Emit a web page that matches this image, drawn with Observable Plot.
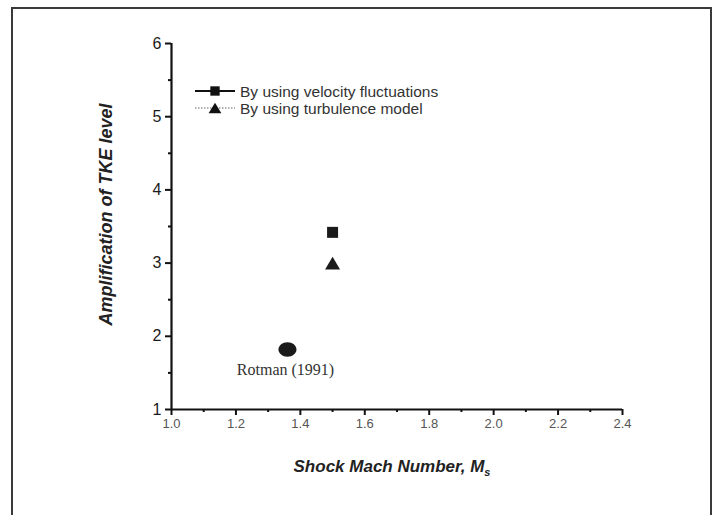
<!DOCTYPE html>
<html>
<head>
<meta charset="utf-8">
<script src="https://cdn.jsdelivr.net/npm/d3@7"></script>
<script src="https://cdn.jsdelivr.net/npm/@observablehq/plot@0.6"></script>
<style>
  html, body { margin: 0; padding: 0; background: #fff; }
  #wrap { position: relative; width: 718px; height: 515px; overflow: hidden; background: #fff; }
  #border { position: absolute; left: 11px; top: 7px; width: 697px; height: 530px;
            border: 2px solid #3a3a3a; border-bottom: none; pointer-events: none; }
  .xticks text { fill: #555; }
  .yticks text { fill: #1a1a1a; }
</style>
</head>
<body>
<div id="wrap"><div id="border"></div></div>
<script>
// ---- data ----
const seriesNames = ["By using velocity fluctuations", "By using turbulence model", "Rotman (1991)"];
const machNumbers = [1.5, 1.5, 1.36];
const amplification = [3.42, 3.0, 1.82];
const xTicks = [1.0, 1.2, 1.4, 1.6, 1.8, 2.0, 2.2, 2.4];
const xMinorTicks = [1.1, 1.3, 1.5, 1.7, 1.9, 2.1, 2.3];
const yTicks = [1, 2, 3, 4, 5, 6];
const yMinorTicks = [1.5, 2.5, 3.5, 4.5, 5.5];
const xLabel = "Shock Mach Number, M";
const xLabelSub = "s";
const yLabel = "Amplification of TKE level";

const rows = seriesNames.map((name, i) => ({ name, x: machNumbers[i], y: amplification[i] }));

// custom marker symbols (Origin-style, centred on bounding box)
const squareSym = { draw(ctx) { const h = 5.5; ctx.moveTo(-h, -h); ctx.lineTo(h, -h); ctx.lineTo(h, h); ctx.lineTo(-h, h); ctx.closePath(); } };
const triSym = { draw(ctx) { const w = 7.5, h = 6.3; ctx.moveTo(0, -h); ctx.lineTo(w, h); ctx.lineTo(-w, h); ctx.closePath(); } };
const ellipseSym = { draw(ctx) {
  const a = 9, b = 7.2, k = 0.5523;
  ctx.moveTo(a, 0);
  ctx.bezierCurveTo(a, k * b, k * a, b, 0, b);
  ctx.bezierCurveTo(-k * a, b, -a, k * b, -a, 0);
  ctx.bezierCurveTo(-a, -k * b, -k * a, -b, 0, -b);
  ctx.bezierCurveTo(k * a, -b, a, -k * b, a, 0);
  ctx.closePath();
} };

const chart = Plot.plot({
  width: 718,
  height: 515,
  marginLeft: 171,
  marginRight: 96,
  marginTop: 43,
  marginBottom: 106,
  style: { fontFamily: "Arial, 'Liberation Sans', sans-serif", background: "transparent", color: "#111" },
  x: { domain: [1.0, 2.4] },
  y: { domain: [1, 6] },
  marks: [
    Plot.axisX({ ticks: xTicks, tickFormat: d3.format(".1f"), tickSize: 6, tickPadding: 3, fontSize: 13, strokeWidth: 2, label: null, className: "xticks" }),
    Plot.axisX({ ticks: xMinorTicks, tickFormat: () => "", tickSize: 3, strokeWidth: 2, label: null }),
    Plot.axisY({ ticks: yTicks, tickFormat: d3.format("d"), tickSize: 6, tickPadding: 4, fontSize: 16, strokeWidth: 2, label: null, className: "yticks" }),
    Plot.axisY({ ticks: yMinorTicks, tickFormat: () => "", tickSize: 3, strokeWidth: 2, label: null }),
    Plot.ruleX([1.0], { stroke: "#111", strokeWidth: 2.2 }),
    Plot.ruleY([1], { stroke: "#111", strokeWidth: 2.2 }),
    Plot.dot(rows.filter(d => d.name === seriesNames[0]), { x: "x", y: "y", symbol: squareSym, r: 6, fill: "#1a1a1a", stroke: "none" }),
    Plot.dot(rows.filter(d => d.name === seriesNames[1]), { x: "x", y: "y", symbol: triSym, r: 6, fill: "#1a1a1a", stroke: "none" }),
    Plot.dot(rows.filter(d => d.name === seriesNames[2]), { x: "x", y: "y", symbol: ellipseSym, r: 8, fill: "#1a1a1a", stroke: "none" }),
    Plot.text(rows.filter(d => d.name === seriesNames[2]), { x: "x", y: "y", text: "name", dx: -2, dy: 20, fontFamily: "'Liberation Serif', 'Times New Roman', serif", fontSize: 16, fill: "#333" }),
    Plot.text([yLabel], { frameAnchor: "left", dx: -65, dy: -12, rotate: -90, fontSize: 18, fontWeight: "bold", fontStyle: "italic", fill: "#222", textAnchor: "middle" }),
    Plot.text([xLabel], { frameAnchor: "bottom", dy: 62, fontSize: 17, fontWeight: "bold", fontStyle: "italic", fill: "#222", className: "xlabel" })
  ]
});

document.getElementById("wrap").insertBefore(chart, document.getElementById("border"));

// subscript for M_s
const xl = chart.querySelector(".xlabel text");
if (xl) {
  const t = xl.textContent;
  xl.textContent = "";
  d3.select(xl).append("tspan").text(t);
  d3.select(xl).append("tspan").attr("dy", "0.45em").attr("font-size", 11).text(xLabelSub);
  d3.select(xl).attr("dx", -5);
}

// legend (Origin-style, inside the plot area)
const svg = d3.select(chart);
const lg = svg.append("g").attr("font-family", "Arial, 'Liberation Sans', sans-serif").attr("font-size", 15.5).attr("text-anchor", "start");
const legendRows = [
  { name: seriesNames[0], sym: squareSym, dash: null, sw: 2, stroke: "#111", y: 91 },
  { name: seriesNames[1], sym: triSym, dash: "1.5,1.5", sw: 1, stroke: "#666", y: 108 }
];
legendRows.forEach(r => {
  lg.append("line").attr("x1", 195).attr("x2", 235).attr("y1", r.y).attr("y2", r.y)
    .attr("stroke", r.stroke).attr("stroke-width", r.sw).attr("stroke-dasharray", r.dash);
  const p = d3.path(); r.sym.draw(p);
  lg.append("path").attr("d", p.toString()).attr("transform", `translate(215,${r.y}) scale(0.85)`).attr("fill", "#111");
  lg.append("text").attr("x", 240).attr("y", r.y).attr("dy", "0.36em").attr("text-anchor", "start").attr("fill", "#333").text(r.name);
});
</script>
</body>
</html>
